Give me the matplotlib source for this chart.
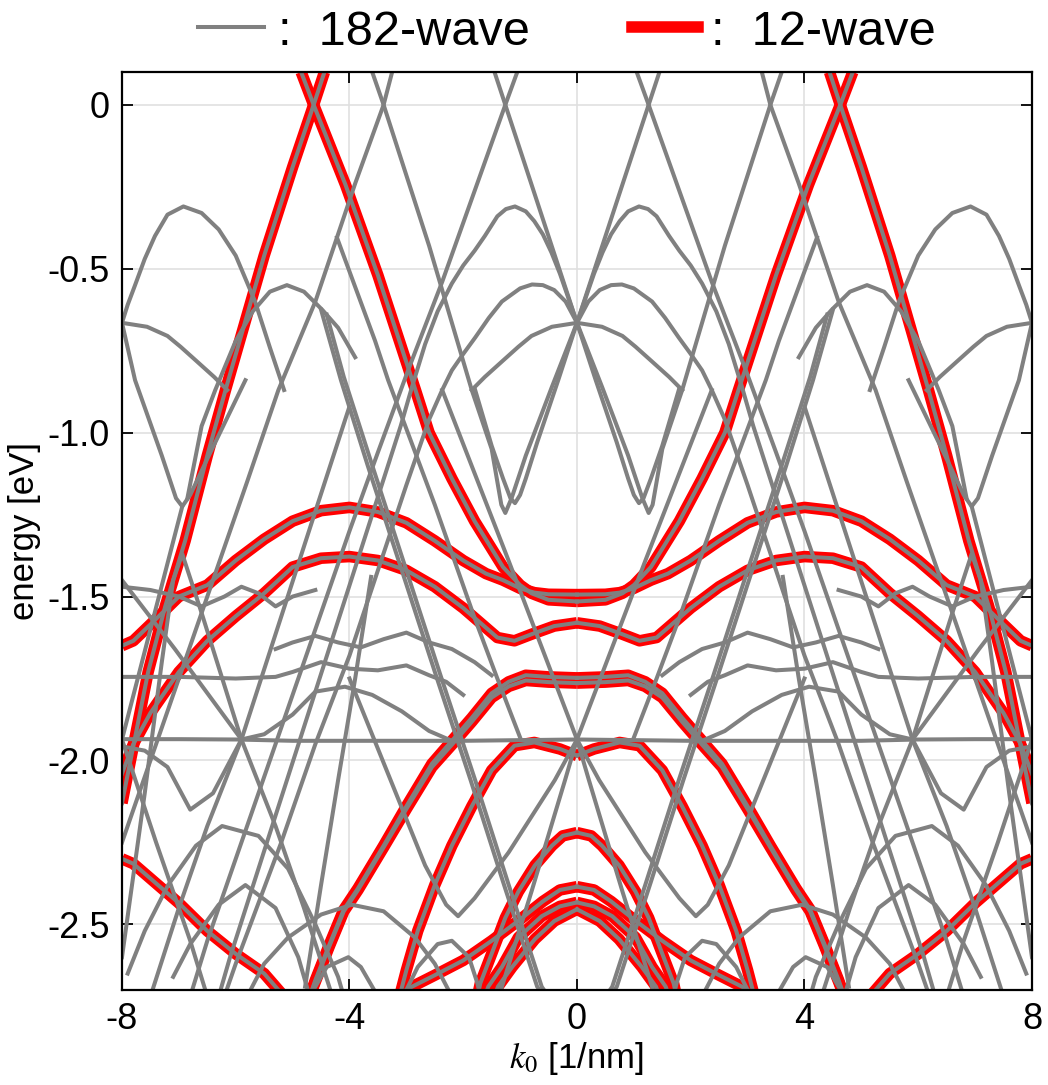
import matplotlib
matplotlib.use("Agg")
import matplotlib.pyplot as plt
from matplotlib.lines import Line2D

plt.rcParams["font.family"] = ["Liberation Sans", "DejaVu Sans"]
plt.rcParams["mathtext.fontset"] = "stix"
plt.rcParams["axes.unicode_minus"] = False

GRAY = "#808080"
RED = "#ff0000"

# 12-wave bands, k >= 0 half (mirrored to k < 0); pairs of (k [1/nm], E [eV])
red_bands = [
    [(0, -1.494), (0.5, -1.493), (0.75, -1.488), (1.0, -1.475), (1.3, -1.45), (1.6, -1.43), (2.0, -1.39),
     (2.5, -1.33), (3.0, -1.275), (3.5, -1.242), (4.0, -1.228), (4.5, -1.238), (5.0, -1.27), (5.5, -1.325),
     (6.0, -1.39), (6.5, -1.465), (7.0, -1.50), (7.5, -1.585), (7.8, -1.635), (8.0, -1.65)],
    [(0, -1.58), (0.4, -1.59), (0.8, -1.615), (1.1, -1.635), (1.4, -1.625), (1.7, -1.58), (2.0, -1.535),
     (2.5, -1.47), (3.0, -1.42), (3.5, -1.39), (4.0, -1.378), (4.5, -1.383), (5.0, -1.41), (5.5, -1.49),
     (6.0, -1.56), (6.5, -1.635), (7.0, -1.73), (7.5, -1.855), (7.8, -1.95), (8.0, -2.04)],
    [(0, -1.515), (0.5, -1.51), (0.8, -1.49), (1.0, -1.465), (1.3, -1.41), (1.8, -1.27), (2.2, -1.14),
     (2.6, -1.0), (2.84, -0.87), (3.5, -0.52), (4.07, -0.244), (4.63, 0.0), (4.85, 0.1)],
    [(4.44, 0.1), (4.63, 0.0), (5.0, -0.19), (5.5, -0.46), (6.18, -0.87), (6.5, -1.07), (6.89, -1.33),
     (7.24, -1.53), (7.54, -1.73), (7.77, -1.93), (8.0, -2.13)],
    [(0, -1.748), (0.5, -1.745), (0.9, -1.74), (1.2, -1.76), (1.5, -1.795), (1.85, -1.87), (2.2, -1.94),
     (2.55, -2.01), (3.0, -2.14), (3.4, -2.26), (3.85, -2.39), (4.1, -2.455), (4.35, -2.56), (4.6, -2.67),
     (4.7, -2.72)],
    [(0, -1.764), (0.5, -1.761), (0.9, -1.756), (1.2, -1.774), (1.5, -1.808), (1.85, -1.882), (2.2, -1.952),
     (2.55, -2.02), (3.0, -2.148), (3.4, -2.265), (3.85, -2.395), (4.1, -2.46), (4.35, -2.565), (4.6, -2.675),
     (4.7, -2.72)],
    [(5.15, -2.72), (5.5, -2.65), (6.0, -2.59), (6.5, -2.52), (7.0, -2.435), (7.5, -2.36), (7.8, -2.315),
     (8.0, -2.30)],
    [(0, -1.985), (0.3, -1.965), (0.75, -1.945), (1.1, -1.955), (1.5, -2.03), (1.85, -2.14), (2.2, -2.26),
     (2.5, -2.38), (2.8, -2.52), (3.0, -2.64), (3.12, -2.72)],
    [(0, -2.22), (0.25, -2.23), (0.44, -2.26), (0.74, -2.32), (1.03, -2.40), (1.26, -2.48), (1.49, -2.585),
     (1.7, -2.68), (1.75, -2.72)],
    [(0, -2.385), (0.3, -2.395), (0.6, -2.43), (1.0, -2.485), (1.5, -2.55), (2.0, -2.61), (2.5, -2.655),
     (2.9, -2.69), (3.2, -2.72)],
    [(0, -2.433), (0.3, -2.445), (0.62, -2.475), (1.03, -2.54), (1.32, -2.63), (1.56, -2.69), (1.62, -2.72)],
    [(0, -2.454), (0.4, -2.49), (0.74, -2.545), (1.14, -2.63), (1.39, -2.69), (1.45, -2.72)],
]

# 182-wave bands that do not lie on a 12-wave band, k >= 0 half
gray_bands = [
    [(0, -0.665), (1.26, 0.0), (1.45, 0.1)],
    [(1.05, 0.1), (1.26, 0.0), (2.37, -0.54), (2.97, -0.81), (3.5, -1.06), (4.0, -1.3), (4.5, -1.55),
     (5.0, -1.8), (5.5, -2.05), (6.0, -2.3), (6.5, -2.55), (6.8, -2.72)],
    [(3.6, 0.1), (3.4, 0.0), (2.6, -0.43), (1.85, -0.87), (1.5, -1.05), (1.33, -1.22), (1.26, -1.245),
     (1.15, -1.2), (0.9, -1.07), (0.44, -0.86), (0, -0.665)],
    [(3.25, 0.1), (3.4, 0.0), (3.9, -0.24), (4.6, -0.6), (5.25, -0.87), (5.8, -1.15), (6.3, -1.4),
     (6.7, -1.6), (7.2, -1.85), (7.6, -2.05), (8.0, -2.25)],
    [(0, -0.665), (0.15, -0.59), (0.3, -0.515), (0.45, -0.45), (0.6, -0.395), (0.75, -0.355), (0.9, -0.325),
     (1.09, -0.31), (1.25, -0.318), (1.4, -0.34), (1.62, -0.40), (1.8, -0.445), (2.0, -0.49), (2.2, -0.545),
     (2.45, -0.63), (2.67, -0.73), (2.9, -0.86), (3.1, -0.98), (3.6, -1.25), (4.1, -1.52), (4.6, -1.79),
     (5.1, -2.06), (5.6, -2.33), (6.1, -2.6), (6.3, -2.72)],
    [(0, -0.665), (0.2, -0.6), (0.4, -0.565), (0.6, -0.55), (0.79, -0.548), (1.0, -0.56), (1.32, -0.60),
     (1.55, -0.65), (1.79, -0.71), (2.0, -0.76), (2.2, -0.81), (2.37, -0.87), (2.6, -0.96), (3.0, -1.16),
     (3.5, -1.42), (4.0, -1.68), (4.6, -1.95), (5.2, -2.25), (6.0, -2.62), (6.2, -2.72)],
    [(0, -0.665), (0.44, -0.677), (0.8, -0.705), (1.03, -0.738), (1.3, -0.78), (1.62, -0.83), (1.85, -0.87)],
    [(0, -0.665), (0.33, -0.84), (0.7, -1.03), (0.9, -1.14), (1.0, -1.19), (1.09, -1.215), (1.17, -1.2),
     (1.3, -1.14), (1.5, -1.04), (1.79, -0.87)],
    [(5.15, -0.87), (5.4, -0.74), (5.66, -0.6), (6.0, -0.46), (6.3, -0.38), (6.6, -0.33), (6.92, -0.31),
     (7.2, -0.335), (7.42, -0.40), (7.6, -0.47), (7.77, -0.55), (7.9, -0.61), (8.0, -0.665)],
    [(3.9, -0.77), (4.2, -0.68), (4.48, -0.625), (4.8, -0.57), (5.1, -0.55), (5.4, -0.57), (5.7, -0.63),
     (6.0, -0.72), (6.36, -0.87), (6.6, -0.98), (6.85, -1.2)],
    [(6.15, -0.87), (6.38, -0.83), (6.7, -0.78), (6.97, -0.738), (7.2, -0.705), (7.56, -0.677), (8.0, -0.665)],
    [(5.83, -0.84), (6.5, -1.08), (6.8, -1.19), (6.94, -1.225), (7.05, -1.2), (7.3, -1.07), (7.77, -0.84),
     (8.0, -0.665)],
    [(0, -1.936), (1.0, -1.938), (2.0, -1.94), (3.0, -1.94), (4.0, -1.94), (5.0, -1.94), (6.0, -1.936),
     (7.0, -1.935), (8.0, -1.935)],
    [(2.2, -1.94), (2.6, -1.91), (3.08, -1.85), (3.6, -1.8), (4.08, -1.775), (4.6, -1.79), (5.0, -1.86),
     (5.5, -1.92), (5.9, -1.936)],
    [(0, -1.936), (1.21, -1.387), (2.37, -0.87)],
    [(0, -1.936), (0.21, -2.06), (0.8, -2.4), (1.32, -2.69), (1.38, -2.72)],
    [(0, -1.936), (0.39, -2.06), (1.2, -2.28), (1.8, -2.42), (2.09, -2.475), (2.3, -2.44), (2.67, -2.32),
     (3.3, -2.05), (4.0, -1.75)],
    [(0.5, -2.72), (0.62, -2.69), (1.2, -2.38), (1.79, -2.06), (2.4, -1.74), (3.0, -1.42), (3.6, -1.1),
     (4.1, -0.83), (4.4, -0.64)],
    [(0.58, -2.72), (0.7, -2.69), (1.3, -2.37), (1.87, -2.06), (2.48, -1.74), (3.08, -1.42), (3.68, -1.1),
     (4.15, -0.84), (4.5, -0.625)],
    [(4.22, -0.405), (3.55, -0.72), (3.32, -0.84), (2.5, -1.22), (1.79, -1.57), (1.4, -1.75), (1.0, -1.93)],
    [(1.5, -1.74), (1.8, -1.70), (2.2, -1.66), (2.6, -1.64), (3.0, -1.61), (3.4, -1.63), (3.8, -1.655),
     (4.2, -1.64), (4.6, -1.62), (5.0, -1.64), (5.3, -1.66)],
    [(2.0, -1.80), (2.3, -1.76), (2.6, -1.74), (3.0, -1.71), (3.5, -1.725), (4.0, -1.72), (4.5, -1.70),
     (5.0, -1.73), (5.3, -1.745), (6.0, -1.75), (7.0, -1.745), (8.0, -1.745)],
    [(4.6, -1.48), (5.0, -1.5), (5.3, -1.53), (5.6, -1.49), (5.9, -1.47), (6.2, -1.5), (6.6, -1.53),
     (7.0, -1.5), (7.5, -1.48), (8.0, -1.47)],
    [(5.9, -1.936), (6.6, -1.55), (6.94, -1.37), (7.1, -1.45), (7.3, -1.7), (7.6, -2.1), (8.0, -2.6)],
    [(5.9, -1.936), (5.31, -1.62), (4.6, -1.24), (4.0, -0.92)],
    [(5.9, -1.936), (6.5, -2.2), (7.0, -2.45), (7.5, -2.72)],
    [(5.9, -1.936), (5.3, -2.2), (4.8, -2.45), (4.3, -2.72)],
    [(5.9, -1.936), (7.07, -1.66), (8.0, -1.45)],
    [(8.0, -1.936), (7.4, -2.25), (6.8, -2.55), (6.5, -2.72)],
    [(8.0, -1.936), (7.5, -1.6), (6.94, -1.225)],
    [(2.2, -2.72), (2.5, -2.62), (2.85, -2.54), (3.4, -2.46), (3.96, -2.44), (4.5, -2.47), (5.08, -2.54),
     (5.5, -2.62), (5.8, -2.72)],
    [(3.5, -2.72), (3.8, -2.63), (4.02, -2.60), (4.4, -2.63), (4.7, -2.72)],
    [(4.1, -2.72), (4.2, -2.66), (4.6, -2.5), (5.08, -2.33), (5.6, -2.23), (6.24, -2.2), (6.7, -2.26),
     (7.19, -2.38), (7.6, -2.52), (7.9, -2.65)],
    [(4.7, -2.72), (4.9, -2.6), (5.3, -2.45), (5.83, -2.38), (6.3, -2.44), (6.8, -2.56), (7.1, -2.66)],
    [(5.9, -1.936), (6.4, -2.1), (6.8, -2.15), (7.2, -2.02), (7.6, -1.97), (8.0, -1.957)],
    [(1.7, -2.72), (1.75, -2.68), (1.9, -2.6), (2.2, -2.55), (2.45, -2.56), (2.8, -2.63), (3.0, -2.7)],
    [(3.62, -1.44), (3.9, -1.75), (4.2, -2.06), (4.5, -2.38), (4.78, -2.69)],
]

legend_labels = [":  182-wave", ":  12-wave"]
x_ticks = [-8, -4, 0, 4, 8]
y_ticks = [0, -0.5, -1.0, -1.5, -2.0, -2.5]
y_tick_labels = ["0", "-0.5", "-1.0", "-1.5", "-2.0", "-2.5"]


def both_sides(band):
    ks = [p[0] for p in band]
    es = [p[1] for p in band]
    return (ks, es), ([-k for k in ks], es)


fig = plt.figure(figsize=(10.48, 10.85), dpi=100)
ax = fig.add_axes([0.1164, 0.0876, 0.8683, 0.846])

for band in red_bands:
    for ks, es in both_sides(band):
        ax.plot(ks, es, color=RED, lw=8.3, solid_capstyle="butt", solid_joinstyle="round", zorder=2)

for band in gray_bands + red_bands:
    for ks, es in both_sides(band):
        ax.plot(ks, es, color=GRAY, lw=2.9, solid_joinstyle="round", zorder=3)

ax.set_xlim(-8, 8)
ax.set_ylim(-2.7, 0.1)
ax.set_xticks(x_ticks)
ax.set_yticks(y_ticks)
ax.set_yticklabels(y_tick_labels)
ax.grid(True, color="#e0e0e0", lw=1.2, zorder=0)
ax.set_axisbelow(True)
ax.tick_params(direction="in", top=True, right=True, length=8, width=1.3, labelsize=26, pad=9)
for s in ax.spines.values():
    s.set_linewidth(1.6)
    s.set_zorder(5)

ax.set_xlabel(r"$k_0$ [1/nm]", fontsize=25, labelpad=2)
ax.set_ylabel("energy [eV]", fontsize=25, labelpad=4)

handles = [Line2D([], [], color=GRAY, lw=2.9), Line2D([], [], color=RED, lw=8.3)]
fig.legend(handles, legend_labels, loc="center", bbox_to_anchor=(0.541, 0.9705), ncol=2,
           frameon=False, fontsize=35, handlelength=1.36, handletextpad=0.27, columnspacing=2.1,
           borderpad=0)

fig.savefig("out.png", dpi=100)
